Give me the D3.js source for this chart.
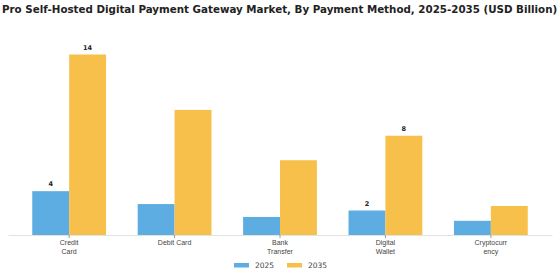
<!DOCTYPE html>
<html>
<head>
<meta charset="utf-8">
<script src="https://cdn.jsdelivr.net/npm/d3@7"></script>
<style>
  body { margin: 0; background: #fff; }
  svg { display: block; font-family: "DejaVu Sans", sans-serif; }
</style>
</head>
<body>
<svg id="chart" width="560" height="280"></svg>
<script>
// data
var categories = ["Credit Card", "Debit Card", "Bank Transfer", "Digital Wallet", "Cryptocurrency"];
var tickLines = [["Credit", "Card"], ["Debit Card"], ["Bank", "Transfer"], ["Digital", "Wallet"], ["Cryptocurr", "ency"]];
var years = ["2025", "2035"];
var values2025 = [3.4, 2.4, 1.4, 1.9, 1.1];
var values2035 = [14.0, 9.7, 5.8, 7.7, 2.25];
var labels2025 = ["4", "", "", "2", ""];
var labels2035 = ["14", "", "", "8", ""];
var colors = ["#5dade2", "#f7c04a"];

var svg = d3.select("#chart");
var baseY = 235;

var x0 = d3.scaleBand()
    .domain(categories)
    .range([8, 552])
    .paddingInner(0.3)
    .paddingOuter(0.23);

var x1 = d3.scaleBand()
    .domain(years)
    .range([0, x0.bandwidth()]);

var y = d3.scaleLinear()
    .domain([0, 14])
    .range([baseY, 54.5]);

var color = d3.scaleOrdinal().domain(years).range(colors);

// title
var title = svg.append("text")
    .attr("x", 2)
    .attr("y", 13)
    .attr("font-weight", "bold")
    .attr("font-size", 10)
    .attr("fill", "#222")
    .text("Pro Self-Hosted Digital Payment Gateway Market, By Payment Method, 2025-2035 (USD Billion)");
var tw = title.node().getComputedTextLength();
if (tw > 0) title.attr("font-size", 10 * 556 / tw);

var rows = categories.map(function (c, i) {
    return {
        cat: c,
        bars: [
            { year: "2025", value: values2025[i], label: labels2025[i] },
            { year: "2035", value: values2035[i], label: labels2035[i] }
        ]
    };
});

var groups = svg.append("g").selectAll("g")
    .data(rows)
    .join("g")
    .attr("transform", d => "translate(" + x0(d.cat) + ",0)");

groups.selectAll("rect")
    .data(d => d.bars)
    .join("rect")
    .attr("x", d => x1(d.year))
    .attr("y", d => y(d.value))
    .attr("width", x1.bandwidth())
    .attr("height", d => baseY - y(d.value))
    .attr("fill", d => color(d.year));

groups.selectAll("text")
    .data(d => d.bars.filter(b => b.label !== ""))
    .join("text")
    .attr("x", d => x1(d.year) + x1.bandwidth() / 2)
    .attr("y", d => y(d.value) - 5)
    .attr("text-anchor", "middle")
    .attr("font-size", 6.5)
    .attr("font-weight", "bold")
    .attr("fill", "#222")
    .text(d => d.label);

// x axis
var axis = svg.append("g")
    .attr("transform", "translate(0," + baseY + ")")
    .call(d3.axisBottom(x0).tickSize(3).tickSizeOuter(0));
axis.select(".domain").attr("stroke", "#e2e2e2");
axis.selectAll(".tick line").attr("stroke", "#999");
axis.selectAll(".tick text").remove();

axis.selectAll(".tick").each(function (d, i) {
    var t = d3.select(this).append("text")
        .attr("fill", "#444")
        .attr("font-size", 7)
        .attr("text-anchor", "middle");
    t.selectAll("tspan")
        .data(tickLines[i])
        .join("tspan")
        .attr("x", 0)
        .attr("y", (s, j) => 10 + j * 8.5)
        .text(s => s);
});

// legend
var legend = svg.append("g").attr("transform", "translate(234,265)");
var items = legend.selectAll("g")
    .data(years)
    .join("g")
    .attr("transform", (d, i) => "translate(" + i * 53 + ",0)");
items.append("rect")
    .attr("x", 0)
    .attr("y", -2)
    .attr("width", 15)
    .attr("height", 4.5)
    .attr("fill", d => color(d));
items.append("text")
    .attr("x", 21)
    .attr("y", 3)
    .attr("font-size", 7.5)
    .attr("fill", "#444")
    .text(d => d);
</script>
</body>
</html>
